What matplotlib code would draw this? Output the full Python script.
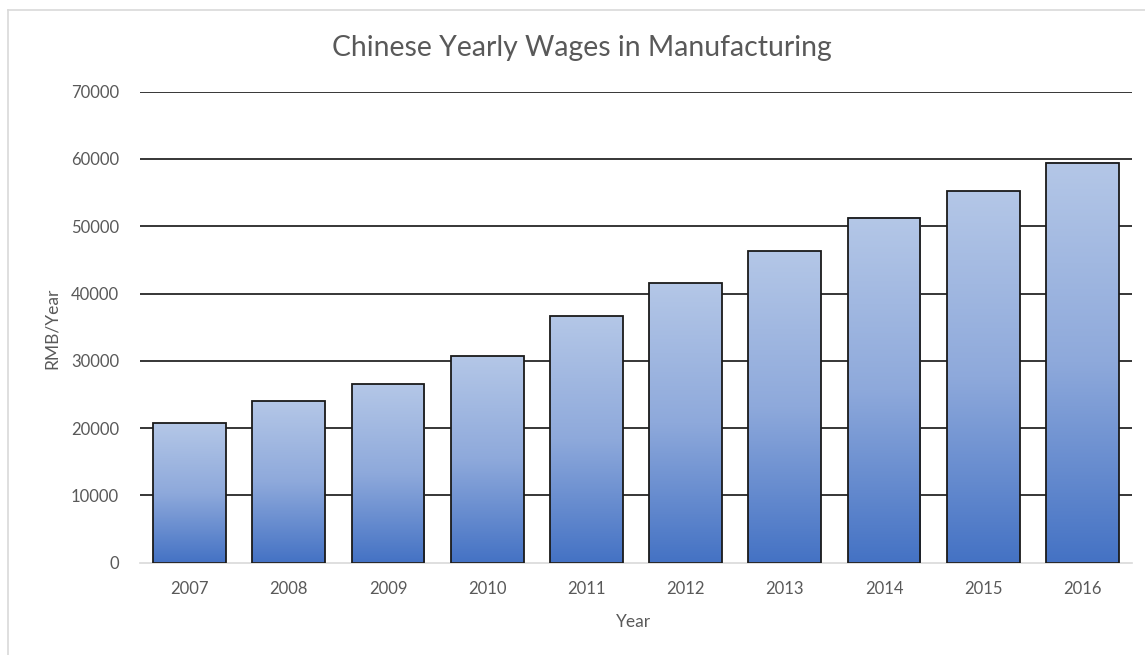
import matplotlib.pyplot as plt
import numpy as np
from matplotlib.colors import LinearSegmentedColormap
from matplotlib.lines import Line2D

# data
years = ["2007", "2008", "2009", "2010", "2011", "2012", "2013", "2014", "2015", "2016"]
wages = [20800, 24000, 26500, 30700, 36650, 41600, 46350, 51300, 55250, 59450]
yticks = [0, 10000, 20000, 30000, 40000, 50000, 60000, 70000]

plt.rcParams['font.family'] = ['Lato', 'DejaVu Sans']
grey = "#595959"

W, H = 1145, 655
fig = plt.figure(figsize=(W / 100, H / 100), dpi=100)
ax = fig.add_axes([140 / W, 1 - 562.7 / H, (1132 - 140) / W, (562.7 - 91.7) / H])

# chart-area border (only left and top visible in the crop)
fig.add_artist(Line2D([8 / W, 8 / W], [0, 1 - 10 / H], transform=fig.transFigure, color="#D9D9D9", lw=1.2))
fig.add_artist(Line2D([8 / W, 1], [1 - 10 / H, 1 - 10 / H], transform=fig.transFigure, color="#D9D9D9", lw=1.2))

x = np.arange(len(years))
bars = ax.bar(x, wages, width=0.735, facecolor="none", edgecolor="#1a1a1a", linewidth=1.3, zorder=3)

# vertical gradient inside each bar, light on top, dark at the bottom
cmap = LinearSegmentedColormap.from_list("excel_blue", ["#4472C4", "#8EA9DB", "#B4C7E7"])
grad = np.linspace(0, 1, 256).reshape(-1, 1)
for b in bars:
    x0, w, h = b.get_x(), b.get_width(), b.get_height()
    ax.imshow(grad, extent=[x0, x0 + w, 0, h], origin="lower", aspect="auto", cmap=cmap, zorder=2)

for t in yticks[1:]:
    ax.axhline(t, color="#141414", lw=1.2, zorder=1)

ax.set_xlim(-0.5, len(years) - 0.5)
ax.set_ylim(0, 70000)
ax.set_xticks(x)
ax.set_xticklabels(years)
ax.set_yticks(yticks)
ax.set_yticklabels([str(t) for t in yticks])
ax.tick_params(axis="y", length=0, pad=15, labelsize=12, labelcolor=grey)
ax.tick_params(axis="x", length=0, pad=13.5, labelsize=12, labelcolor=grey)

for s in ["top", "right", "left"]:
    ax.spines[s].set_visible(False)
ax.spines["bottom"].set_color("#D9D9D9")
ax.spines["bottom"].set_linewidth(1.2)

fig.text(581.5 / W, 1 - 48 / H, "Chinese Yearly Wages in Manufacturing", ha="center", va="center",
         fontsize=20.4, color=grey)
fig.text(634 / W, 1 - 622 / H, "Year", ha="center", va="center", fontsize=12.5, color=grey)
fig.text(52 / W, 1 - 328 / H, "RMB/Year", ha="center", va="center", rotation=90, fontsize=12.5, color=grey)

fig.savefig("out.png", dpi=100)
